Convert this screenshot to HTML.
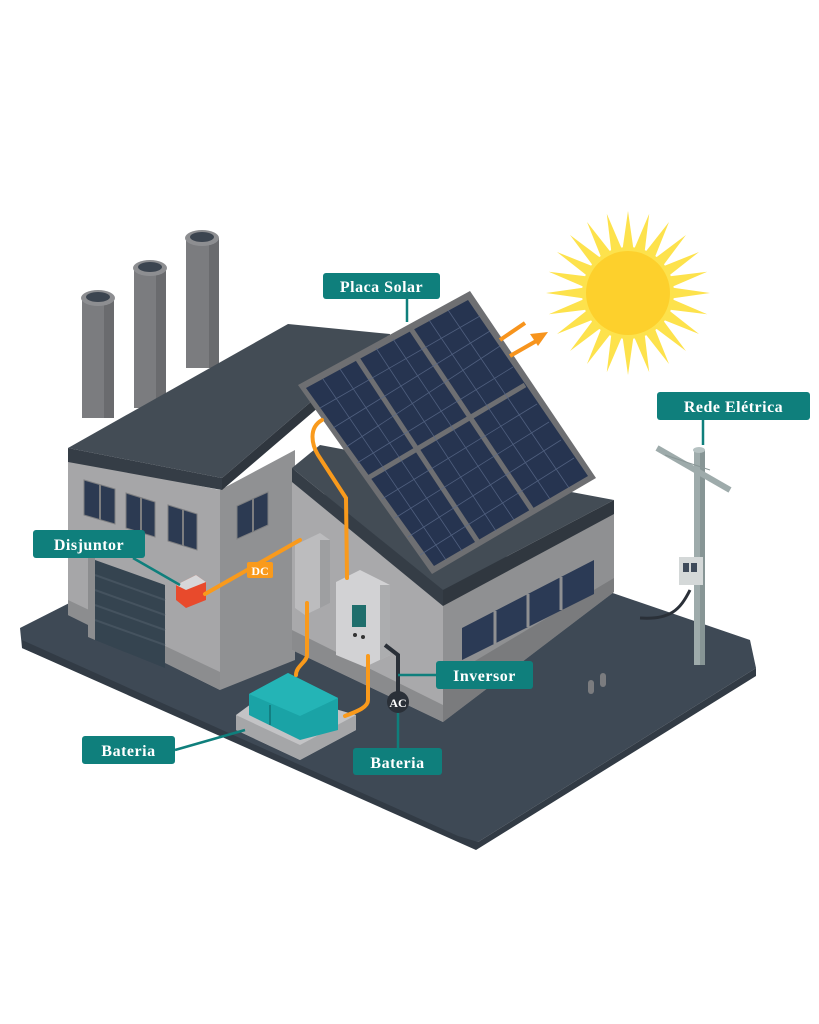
<!DOCTYPE html>
<html><head><meta charset="utf-8"><style>
html,body{margin:0;padding:0;background:#fff;}
svg{display:block}
.lbl{font-family:"Liberation Serif",serif;font-weight:bold;fill:#fff;font-size:16px;letter-spacing:0.5px}
</style></head><body>
<svg width="819" height="1024" viewBox="0 0 819 1024" xmlns="http://www.w3.org/2000/svg">
<!-- ground slab -->
<polygon points="20,628 300,486 750,640 756,668 478,842 458,840 22,648" fill="#3e4955"/>
<polygon points="22,640 458,836 478,842 756,668 756,676 476,850 22,648" fill="#323b45"/>

<!-- chimneys -->
<g fill="#7b7c7f">
<rect x="82" y="298" width="32" height="120"/>
<rect x="134" y="268" width="32" height="140"/>
<rect x="186" y="238" width="33" height="130"/>
</g>
<g fill="#6a6b6e"><rect x="104" y="298" width="10" height="120"/><rect x="156" y="268" width="10" height="140"/><rect x="209" y="238" width="10" height="130"/></g>
<g fill="#8d8e91"><ellipse cx="98" cy="298" rx="17" ry="8"/><ellipse cx="150" cy="268" rx="17" ry="8"/><ellipse cx="202" cy="238" rx="17" ry="8"/></g>
<g fill="#3c4550"><ellipse cx="98" cy="297" rx="12" ry="5"/><ellipse cx="150" cy="267" rx="12" ry="5"/><ellipse cx="202" cy="237" rx="12" ry="5"/></g>

<!-- left block walls -->
<polygon points="68,460 220,490 220,690 68,615" fill="#a6a6a8"/>
<polygon points="220,490 295,450 295,660 220,690" fill="#909193"/>
<polygon points="68,600 220,672 220,690 68,615" fill="#8c8d8f"/>
<!-- roof left block -->
<polygon points="68,448 288,324 390,334 222,478" fill="#434c55"/>
<polygon points="68,448 222,478 222,490 68,462" fill="#353d46"/>
<polygon points="222,478 390,334 390,346 222,490" fill="#2f363e"/>
<!-- windows left block -->
<g fill="#2c3a52" stroke="#7d7e80" stroke-width="1">
<polygon points="84,480 115,489 115,524 84,515"/>
<polygon points="126,493 155,502 155,537 126,528"/>
<polygon points="168,505 197,514 197,550 168,541"/>
<polygon points="237,506 268,492 268,525 237,539"/>
</g>
<g stroke="#7d7e80" stroke-width="2"><line x1="100" y1="485" x2="100" y2="520"/><line x1="141" y1="498" x2="141" y2="533"/><line x1="183" y1="510" x2="183" y2="546"/><line x1="253" y1="499" x2="253" y2="532"/></g>
<!-- garage -->
<polygon points="95,560 165,585 165,668 95,640" fill="#354450"/>
<g stroke="#45535f" stroke-width="2"><line x1="95" y1="575" x2="165" y2="600"/><line x1="95" y1="590" x2="165" y2="615"/><line x1="95" y1="605" x2="165" y2="630"/><line x1="95" y1="620" x2="165" y2="645"/></g>
<polygon points="88,556 95,558 95,640 88,637" fill="#8c8d8f"/>

<!-- lower block -->
<polygon points="292,480 443,600 443,722 292,650" fill="#a9a9ab"/>
<polygon points="292,630 443,705 443,722 292,650" fill="#8a8b8d"/>
<polygon points="443,600 614,512 614,592 443,722" fill="#8f9092"/>
<polygon points="443,680 614,578 614,592 443,722" fill="#7a7b7d"/>
<!-- lower roof -->
<polygon points="292,468 320,445 614,500 443,590" fill="#434c55"/>
<polygon points="292,468 443,590 443,606 292,482" fill="#353d46"/>
<polygon points="443,590 614,500 614,514 443,606" fill="#30373f"/>
<!-- right windows -->
<polygon points="462,628 594,560 594,594 462,660" fill="#2b3a55"/>
<g stroke="#8f9092" stroke-width="3"><line x1="495" y1="611" x2="495" y2="644"/><line x1="528" y1="594" x2="528" y2="627"/><line x1="561" y1="577" x2="561" y2="610"/></g>

<!-- solar panels -->
<polygon points="298,385 470,291 596,478 432,574" fill="#6e6f72"/>
<polygon points="306,388 468,300 588,476 434,566" fill="#263450"/>
<g stroke="#6e6f72" stroke-width="5">
<line x1="357" y1="358" x2="478" y2="542"/>
<line x1="411" y1="329" x2="532" y2="510"/>
<line x1="368" y1="478" x2="525" y2="385"/>
</g>
<g stroke="#5a6a8a" stroke-width="0.8" opacity="0.8">
<line x1="323" y1="379" x2="446" y2="560"/><line x1="340" y1="369" x2="462" y2="551"/>
<line x1="376" y1="348" x2="496" y2="531"/><line x1="393" y1="339" x2="514" y2="520"/>
<line x1="429" y1="320" x2="550" y2="499"/><line x1="448" y1="310" x2="569" y2="488"/>
<line x1="320" y1="408" x2="480" y2="316"/><line x1="333" y1="428" x2="490" y2="331"/><line x1="346" y1="447" x2="500" y2="346"/><line x1="357" y1="463" x2="513" y2="367"/>
<line x1="382" y1="499" x2="537" y2="404"/><line x1="395" y1="518" x2="549" y2="422"/><line x1="408" y1="537" x2="561" y2="440"/><line x1="420" y1="555" x2="574" y2="458"/>
</g>

<!-- orange arrows -->
<g stroke="#f7941d" stroke-width="4" fill="none"><line x1="500" y1="340" x2="525" y2="323"/><line x1="510" y1="356" x2="538" y2="340"/></g>
<polygon points="548,332 530,334 538,346" fill="#f7941d"/>

<!-- sun -->
<g transform="translate(628,293)">
<g fill="#fde24c">
<polygon points="0,-82 6,-40 -6,-40" transform="rotate(0)"/>
<polygon points="0,-82 6,-40 -6,-40" transform="rotate(15)"/>
<polygon points="0,-82 6,-40 -6,-40" transform="rotate(30)"/>
<polygon points="0,-82 6,-40 -6,-40" transform="rotate(45)"/>
<polygon points="0,-82 6,-40 -6,-40" transform="rotate(60)"/>
<polygon points="0,-82 6,-40 -6,-40" transform="rotate(75)"/>
<polygon points="0,-82 6,-40 -6,-40" transform="rotate(90)"/>
<polygon points="0,-82 6,-40 -6,-40" transform="rotate(105)"/>
<polygon points="0,-82 6,-40 -6,-40" transform="rotate(120)"/>
<polygon points="0,-82 6,-40 -6,-40" transform="rotate(135)"/>
<polygon points="0,-82 6,-40 -6,-40" transform="rotate(150)"/>
<polygon points="0,-82 6,-40 -6,-40" transform="rotate(165)"/>
<polygon points="0,-82 6,-40 -6,-40" transform="rotate(180)"/>
<polygon points="0,-82 6,-40 -6,-40" transform="rotate(195)"/>
<polygon points="0,-82 6,-40 -6,-40" transform="rotate(210)"/>
<polygon points="0,-82 6,-40 -6,-40" transform="rotate(225)"/>
<polygon points="0,-82 6,-40 -6,-40" transform="rotate(240)"/>
<polygon points="0,-82 6,-40 -6,-40" transform="rotate(255)"/>
<polygon points="0,-82 6,-40 -6,-40" transform="rotate(270)"/>
<polygon points="0,-82 6,-40 -6,-40" transform="rotate(285)"/>
<polygon points="0,-82 6,-40 -6,-40" transform="rotate(300)"/>
<polygon points="0,-82 6,-40 -6,-40" transform="rotate(315)"/>
<polygon points="0,-82 6,-40 -6,-40" transform="rotate(330)"/>
<polygon points="0,-82 6,-40 -6,-40" transform="rotate(345)"/>
</g>
<circle r="46" fill="#fde24c"/>
<circle r="42" fill="#fdd02c"/>
</g>

<!-- pole -->
<path d="M690,590 C680,610 670,620 640,618" stroke="#2a3038" stroke-width="3" fill="none"/>
<rect x="694" y="450" width="11" height="215" fill="#9eabab"/>
<rect x="700" y="450" width="5" height="215" fill="#879595"/>
<ellipse cx="699" cy="450" rx="6" ry="3" fill="#b6c2c2"/>
<line x1="657" y1="448" x2="730" y2="490" stroke="#9eabab" stroke-width="6"/>
<line x1="665" y1="455" x2="710" y2="470" stroke="#8a9797" stroke-width="1"/>
<rect x="679" y="557" width="24" height="28" fill="#d4d8d8"/>
<rect x="683" y="563" width="6" height="9" fill="#3e4a5a"/><rect x="691" y="563" width="6" height="9" fill="#3e4a5a"/>
<rect x="588" y="680" width="6" height="14" rx="3" fill="#7b7c7f"/><rect x="600" y="673" width="6" height="14" rx="3" fill="#7b7c7f"/>

<!-- equipment -->
<polygon points="295,545 320,533 330,540 330,603 305,615 295,608" fill="#bcbcbe"/>
<polygon points="320,540 330,540 330,603 320,608" fill="#9e9fa1"/>
<polygon points="336,582 360,570 390,585 390,655 365,667 336,655" fill="#d2d2d4"/>
<polygon points="380,585 390,585 390,655 380,660" fill="#acadaf"/>
<rect x="352" y="605" width="14" height="22" fill="#1f6e6c"/>
<circle cx="355" cy="635" r="2" fill="#333"/><circle cx="363" cy="637" r="2" fill="#333"/>
<!-- breaker -->
<polygon points="176,585 196,575 206,582 206,600 186,608 176,600" fill="#e84a2c"/>
<polygon points="176,585 196,575 206,582 186,590" fill="#d7d7d9"/>

<!-- battery -->
<polygon points="236,715 270,690 356,715 356,730 300,760 236,730" fill="#c3c3c5"/>
<polygon points="236,715 300,745 356,715 356,730 300,760 236,730" fill="#a5a6a8"/>
<polygon points="249,694 288,673 338,698 338,730 300,740 249,715" fill="#1aa3a6"/>
<polygon points="249,694 288,673 338,698 300,716" fill="#24b4b6"/>
<line x1="270" y1="705" x2="270" y2="725" stroke="#137f82" stroke-width="2"/>

<!-- orange cables -->
<g stroke="#f99a1c" stroke-width="4" fill="none" stroke-linecap="round">
<path d="M322,420 C308,428 312,445 318,455 L346,498 L347,578"/>
<path d="M205,594 L300,540"/>
<path d="M307,603 L307,655 C307,662 296,666 296,675"/>
<path d="M368,656 L368,700 C368,708 355,712 345,716"/>
</g>
<path d="M385,645 L398,655 L398,700" stroke="#2a3038" stroke-width="4" fill="none"/>

<!-- connector lines -->
<g stroke="#0f7f7c" stroke-width="2.5" fill="none">
<line x1="407" y1="298" x2="407" y2="322"/>
<line x1="703" y1="420" x2="703" y2="445"/>
<line x1="133" y1="558" x2="180" y2="585"/>
<line x1="436" y1="675" x2="398" y2="675"/>
<line x1="175" y1="750" x2="245" y2="730"/>
<line x1="398" y1="712" x2="398" y2="748"/>
</g>

<!-- labels -->
<rect x="323" y="273" width="117" height="26" rx="3" fill="#0f7f7c"/>
<text class="lbl" x="381.5" y="292" text-anchor="middle">Placa Solar</text>
<rect x="657" y="392" width="153" height="28" rx="3" fill="#0f7f7c"/>
<text class="lbl" x="733.5" y="412" text-anchor="middle">Rede Elétrica</text>
<rect x="33" y="530" width="112" height="28" rx="3" fill="#0f7f7c"/>
<text class="lbl" x="89" y="550" text-anchor="middle">Disjuntor</text>
<rect x="436" y="661" width="97" height="28" rx="3" fill="#0f7f7c"/>
<text class="lbl" x="484.5" y="681" text-anchor="middle">Inversor</text>
<rect x="82" y="736" width="93" height="28" rx="3" fill="#0f7f7c"/>
<text class="lbl" x="128.5" y="756" text-anchor="middle">Bateria</text>
<rect x="353" y="748" width="89" height="27" rx="3" fill="#0f7f7c"/>
<text class="lbl" x="397.5" y="768" text-anchor="middle">Bateria</text>
<circle cx="398" cy="702" r="11" fill="#2a3038"/>
<text x="398" y="707" text-anchor="middle" font-family="Liberation Serif,serif" font-weight="bold" font-size="12" fill="#fff">AC</text>
<rect x="247" y="562" width="26" height="16" rx="2" fill="#f99a1c"/>
<text x="260" y="575" text-anchor="middle" font-family="Liberation Serif,serif" font-weight="bold" font-size="12" fill="#fff">DC</text>
</svg>
</body></html>
